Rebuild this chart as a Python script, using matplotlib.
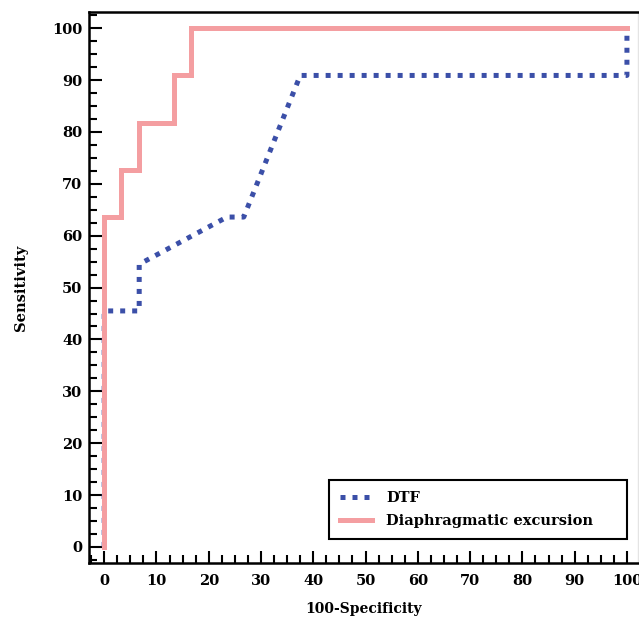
import matplotlib
matplotlib.use("Agg")
import matplotlib.pyplot as plt
from matplotlib.ticker import MultipleLocator

# ROC points (100-Specificity, Sensitivity)
dtf_x = [0, 0, 6.7, 6.7, 23.5, 26.7, 37.5, 100, 100]
dtf_y = [0, 45.5, 45.5, 54.5, 63.6, 63.6, 90.9, 90.9, 100]

de_x = [0, 0, 3.3, 3.3, 6.7, 6.7, 13.3, 13.3, 16.7, 16.7, 100]
de_y = [0, 63.6, 63.6, 72.7, 72.7, 81.8, 81.8, 90.9, 90.9, 100, 100]

x_ticks = list(range(0, 101, 10))
y_ticks = list(range(0, 101, 10))

plt.rcParams['font.family'] = ['DejaVu Serif']
plt.rcParams['font.weight'] = 'bold'

fig = plt.figure(figsize=(6.39, 6.21), dpi=100)
ax = fig.add_axes([0.1393, 0.0934, 0.859, 0.887])

ax.plot(dtf_x, dtf_y, color='#3B4FA8', linewidth=3.6, linestyle=(0, (1, 1.4)),
        dash_capstyle='butt', label='DTF', zorder=2)
ax.plot(de_x, de_y, color='#F49EA1', linewidth=3.6, solid_joinstyle='miter',
        label='Diaphragmatic excursion', zorder=3)

ax.set_xlim(-2.9, 102.1)
ax.set_ylim(-3.1, 103.1)
ax.set_xticks(x_ticks)
ax.set_yticks(y_ticks)
ax.xaxis.set_minor_locator(MultipleLocator(2.5))
ax.yaxis.set_minor_locator(MultipleLocator(2.5))
ax.tick_params(which='both', direction='in', width=1.5, top=False, right=False,
               labelsize=10.5)
ax.tick_params(axis='y', pad=5)
ax.tick_params(axis='x', pad=8)
ax.tick_params(which='major', length=9)
ax.tick_params(which='minor', length=5.5)
for lab in ax.get_xticklabels() + ax.get_yticklabels():
    lab.set_fontweight('bold')

for s in ax.spines.values():
    s.set_linewidth(1.8)
# right edge is cropped in the original, only a faint trace left
ax.spines['right'].set_color('#e4e4e4')
ax.spines['right'].set_linewidth(1.0)

ax.set_xlabel('100-Specificity', fontsize=10, fontweight='bold', labelpad=10)
ax.set_ylabel('Sensitivity', fontsize=10.5, fontweight='bold', labelpad=17)

leg = ax.legend(loc='lower left', bbox_to_anchor=(0.437, 0.0436, 0.543, 0.11),
                mode='expand', borderaxespad=0, fancybox=False,
                edgecolor='black', framealpha=1, handlelength=2.2,
                handletextpad=1.0, borderpad=0.75, labelspacing=0.6,
                prop={'weight': 'bold', 'size': 10.5})
leg.get_frame().set_linewidth(1.5)

fig.savefig('out.png', dpi=100)
